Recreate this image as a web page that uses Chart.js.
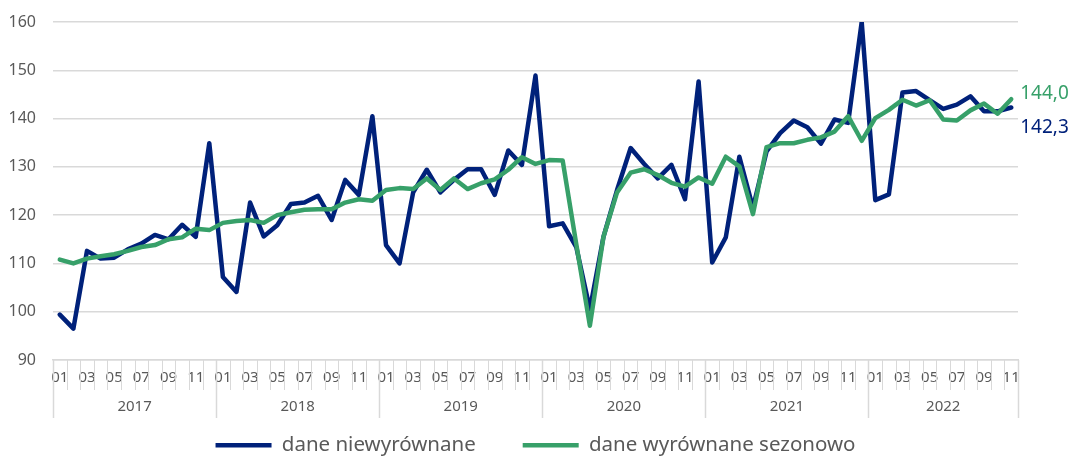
<!DOCTYPE html>
<html lang="pl">
<head>
<meta charset="utf-8">
<title>Dane niewyrównane i wyrównane sezonowo</title>
<script src="https://cdn.jsdelivr.net/npm/chart.js@4/dist/chart.umd.min.js"></script>
<style>
  html, body { margin: 0; padding: 0; background: #fff; }
  .wrap { width: 1071px; height: 458px; position: relative; }
</style>
</head>
<body>
<div class="wrap"><canvas id="chart"></canvas></div>
<script>
// Wykres: dane niewyrównane vs wyrównane sezonowo, 01.2017 - 11.2022
const KOLORY = { granat: "#00217a", zielony: "#37a069", siatka: "#d9d9d9", tekst: "#595959" };
const FONT = "'Noto Sans', 'Open Sans', sans-serif";

const lata = ["2017", "2018", "2019", "2020", "2021", "2022"];
const miesiace = ["01", "02", "03", "04", "05", "06", "07", "08", "09", "10", "11", "12"];
const etykiety = [];
lata.forEach((r) => miesiace.forEach((m) => etykiety.push(m)));
etykiety.length = 71; // do 11.2022

const niewyrownane = [
  99.4, 96.5, 112.6, 111.0, 111.2, 112.9, 114.1, 115.9, 115.0, 118.0, 115.5, 134.9,
  107.2, 104.1, 122.6, 115.6, 117.9, 122.3, 122.6, 124.0, 119.0, 127.3, 124.2, 140.5,
  113.8, 110.0, 124.7, 129.4, 124.7, 127.3, 129.5, 129.5, 124.2, 133.4, 130.4, 148.9,
  117.7, 118.3, 113.4, 100.5, 115.5, 125.2, 133.9, 130.6, 127.6, 130.4, 123.3, 147.7,
  110.2, 115.4, 132.1, 121.5, 133.2, 137.0, 139.6, 138.2, 134.8, 139.8, 139.1, 160.0,
  123.1, 124.3, 145.4, 145.7, 143.8, 142.0, 142.9, 144.6, 141.5, 141.5, 142.3,
];
const wyrownane = [
  110.8, 110.0, 111.0, 111.5, 111.9, 112.6, 113.4, 113.8, 115.0, 115.4, 117.2, 116.9,
  118.4, 118.8, 119.0, 118.4, 120.0, 120.6, 121.1, 121.2, 121.2, 122.6, 123.3, 123.0,
  125.2, 125.6, 125.4, 127.6, 125.2, 127.6, 125.4, 126.6, 127.4, 129.4, 132.0, 130.6,
  131.4, 131.3, 114.0, 97.1, 115.5, 124.7, 128.8, 129.5, 128.3, 126.7, 125.9, 127.8,
  126.5, 132.1, 130.1, 120.2, 134.1, 134.9, 134.9, 135.6, 136.1, 137.3, 140.5, 135.4,
  140.1, 141.8, 143.9, 142.7, 143.8, 139.8, 139.6, 141.7, 143.1, 141.0, 144.0,
];

Chart.defaults.font.family = FONT;
Chart.defaults.color = KOLORY.tekst;

const fmt = (v) => v.toFixed(1).replace(".", ",");

// etykiety ostatnich wartości po prawej stronie
const etykietyKoncowe = {
  id: "etykietyKoncowe",
  afterDatasetsDraw(chart) {
    const { ctx } = chart;
    const przesuniecia = [20, -6];
    chart.data.datasets.forEach((ds, i) => {
      const meta = chart.getDatasetMeta(i);
      const p = meta.data[meta.data.length - 1];
      ctx.save();
      ctx.font = `19px ${FONT}`;
      ctx.fillStyle = ds.borderColor;
      ctx.textBaseline = "middle";
      ctx.fillText(fmt(ds.data[ds.data.length - 1]), p.x + 9, p.y + przesuniecia[i]);
      ctx.restore();
    });
  },
};

// podziałka osi X: kreski między miesiącami, dłuższe między latami + podpisy lat
const podzialka = {
  id: "podzialka",
  afterDraw(chart) {
    const { ctx, chartArea } = chart;
    const sx = chart.scales.x;
    const krok = sx.getPixelForTick(1) - sx.getPixelForTick(0);
    const x0 = sx.getPixelForTick(0) - krok / 2;
    ctx.save();
    ctx.strokeStyle = KOLORY.siatka;
    for (let i = 0; i <= etykiety.length; i++) {
      const x = Math.round(x0 + i * krok) + 0.5;
      const rok = i % 12 === 0 || i === etykiety.length;
      ctx.lineWidth = rok ? 1.5 : 1;
      ctx.beginPath();
      ctx.moveTo(x, chartArea.bottom);
      ctx.lineTo(x, chartArea.bottom + (rok ? 58 : 30));
      ctx.stroke();
    }
    ctx.font = `15px ${FONT}`;
    ctx.fillStyle = KOLORY.tekst;
    ctx.textAlign = "center";
    ctx.textBaseline = "middle";
    lata.forEach((r, j) => {
      const a = sx.getPixelForTick(j * 12);
      const b = sx.getPixelForTick(Math.min(j * 12 + 11, etykiety.length - 1));
      ctx.fillText(r, (a + b) / 2, chartArea.bottom + 47);
    });
    ctx.restore();
  },
};

new Chart("chart", {
  type: "line",
  data: {
    labels: etykiety,
    datasets: [
      { label: "dane niewyrównane", data: niewyrownane, borderColor: KOLORY.granat, backgroundColor: KOLORY.granat,
        borderWidth: 4.5, pointRadius: 0, tension: 0, borderCapStyle: "round", borderJoinStyle: "round", order: 1 },
      { label: "dane wyrównane sezonowo", data: wyrownane, borderColor: KOLORY.zielony, backgroundColor: KOLORY.zielony,
        borderWidth: 4.5, pointRadius: 0, tension: 0, borderCapStyle: "round", borderJoinStyle: "round", order: 0 },
    ],
  },
  options: {
    responsive: true,
    maintainAspectRatio: false,
    animation: false,
    layout: { padding: { left: 8, right: 53, top: 22, bottom: 0 } },
    plugins: {
      legend: {
        position: "bottom",
        fullSize: false,
        maxHeight: 70,
        labels: { usePointStyle: true, pointStyle: "line", pointStyleWidth: 56, padding: 47,
          font: { size: 20.5 }, color: KOLORY.tekst, sort: (a, b) => a.datasetIndex - b.datasetIndex },
      },
      tooltip: { enabled: false },
    },
    scales: {
      y: {
        min: 90, max: 160,
        afterFit: (s) => { s.width = 45; s.paddingTop = 0; s.paddingBottom = 0; },
        ticks: { stepSize: 10, padding: 17, font: { size: 16 }, color: KOLORY.tekst },
        grid: { color: KOLORY.siatka, lineWidth: 1.5, drawTicks: false },
        border: { display: false },
      },
      x: {
        offset: true,
        afterFit: (s) => { s.height = 28; },
        ticks: { autoSkip: false, maxRotation: 0, padding: 9, font: { size: 15 }, color: KOLORY.tekst,
          callback: (v, i) => (i % 2 === 0 ? etykiety[i] : "") },
        grid: { display: false, drawTicks: false },
        border: { display: true, color: KOLORY.siatka, width: 1.5 },
      },
    },
  },
  plugins: [etykietyKoncowe, podzialka],
});
</script>
</body>
</html>
